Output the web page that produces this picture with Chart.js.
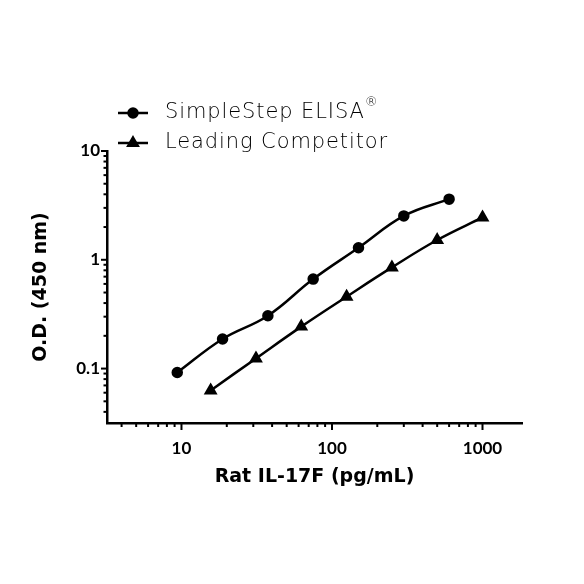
<!DOCTYPE html>
<html>
<head>
<meta charset="utf-8">
<script src="https://cdn.jsdelivr.net/npm/chart.js@4/dist/chart.umd.min.js"></script>
<style>
  html, body { margin: 0; padding: 0; background: #fff; }
  #wrap { width: 584px; height: 584px; }
</style>
</head>
<body>
<div id="wrap"><canvas id="odChart" width="584" height="584"></canvas></div>
<script>
// values
const seriesNames = ['SimpleStep ELISA', 'Leading Competitor'];
const simpleConc = [9.375, 18.75, 37.5, 75, 150, 300, 600];
const simpleOD = [0.092, 0.187, 0.306, 0.665, 1.29, 2.53, 3.61];
const competitorConc = [15.625, 31.25, 62.5, 125, 250, 500, 1000];
const competitorOD = [0.063, 0.124, 0.243, 0.458, 0.851, 1.52, 2.45];

const xMajorTicks = [10, 100, 1000];
const xMinorTicks = [4, 5, 6, 7, 8, 9, 20, 30, 40, 50, 60, 70, 80, 90, 200, 300, 400, 500, 600, 700, 800, 900];
const yMajorTicks = [0.1, 1, 10];
const yMinorTicks = [0.04, 0.05, 0.06, 0.07, 0.08, 0.09, 0.2, 0.3, 0.4, 0.5, 0.6, 0.7, 0.8, 0.9, 2, 3, 4, 5, 6, 7, 8, 9];

const labelFont = { family: 'Lato, "DejaVu Sans", sans-serif', size: 17, weight: 'bold' };
const titleFont = { family: '"DejaVu Sans", sans-serif', size: 19, weight: 'bold' };
const legendFont = '200 21px "DejaVu Sans", sans-serif';

function toPoints(xs, ys) {
  return xs.map((x, i) => ({ x: x, y: ys[i] }));
}

function setTicks(major, minor) {
  return scale => {
    const all = major.map(v => ({ value: v, major: true }))
      .concat(minor.map(v => ({ value: v, major: false })));
    all.sort((a, b) => a.value - b.value);
    scale.ticks = all;
  };
}

// tick marks: long for decades, short for the rest
const tickMarks = {
  id: 'tickMarks',
  afterDraw(chart) {
    const ctx = chart.ctx;
    const xs = chart.scales.x, ys = chart.scales.y;
    const area = chart.chartArea;
    ctx.save();
    ctx.strokeStyle = '#000';
    ctx.lineWidth = 2;
    xs.ticks.forEach(t => {
      const px = xs.getPixelForValue(t.value);
      ctx.beginPath();
      ctx.moveTo(px, area.bottom);
      ctx.lineTo(px, area.bottom + (t.major ? 7 : 4));
      ctx.stroke();
    });
    ys.ticks.forEach(t => {
      const py = ys.getPixelForValue(t.value);
      ctx.beginPath();
      ctx.moveTo(area.left, py);
      ctx.lineTo(area.left - (t.major ? 6 : 3.5), py);
      ctx.stroke();
    });
    ctx.restore();
  }
};

// legend with line + marker, as in the reference
const lineLegend = {
  id: 'lineLegend',
  afterDraw(chart) {
    const ctx = chart.ctx;
    const rows = [113, 143];
    ctx.save();
    chart.data.datasets.forEach((ds, i) => {
      const y = rows[i];
      ctx.strokeStyle = '#000';
      ctx.fillStyle = '#000';
      ctx.lineWidth = 2.5;
      ctx.beginPath();
      ctx.moveTo(118, y);
      ctx.lineTo(148, y);
      ctx.stroke();
      Chart.helpers.drawPoint(ctx, { pointStyle: ds.pointStyle, radius: ds.pointRadius, borderWidth: 1 }, 133, y);
      ctx.font = legendFont;
      ctx.letterSpacing = '0.9px';
      ctx.textBaseline = 'middle';
      ctx.textAlign = 'left';
      ctx.fillText(ds.label, 165, y);
      if (i === 0) {
        const w = ctx.measureText(ds.label).width;
        ctx.letterSpacing = '0px';
        ctx.font = '200 13px "DejaVu Sans", sans-serif';
        ctx.fillText('®', 165 + w, y - 10);
      }
      ctx.letterSpacing = '0px';
    });
    ctx.restore();
  }
};

new Chart(document.getElementById('odChart'), {
  type: 'line',
  data: {
    datasets: [{
      label: seriesNames[0],
      data: toPoints(simpleConc, simpleOD),
      borderColor: '#000',
      backgroundColor: '#000',
      borderWidth: 2.5,
      pointStyle: 'circle',
      pointRadius: 4.5,
      tension: 0.4
    }, {
      label: seriesNames[1],
      data: toPoints(competitorConc, competitorOD),
      borderColor: '#000',
      backgroundColor: '#000',
      borderWidth: 2.5,
      pointStyle: 'triangle',
      pointRadius: 5.5,
      tension: 0.4
    }]
  },
  options: {
    responsive: false,
    animation: false,
    layout: { padding: { top: 151, right: 62, bottom: 96, left: 30 } },
    plugins: {
      legend: { display: false },
      tooltip: { enabled: false }
    },
    scales: {
      x: {
        type: 'logarithmic',
        min: 3.2,
        max: 1830,
        afterBuildTicks: setTicks(xMajorTicks, xMinorTicks),
        afterFit: scale => { scale.height = 65; },
        border: { display: true, color: '#000', width: 2.5 },
        grid: { display: false, drawTicks: false },
        ticks: {
          autoSkip: false,
          maxRotation: 0,
          padding: 15,
          color: '#000',
          font: labelFont,
          callback: (v) => xMajorTicks.includes(v) ? String(v) : ''
        },
        title: {
          display: true,
          text: 'Rat IL-17F (pg/mL)',
          color: '#000',
          font: titleFont,
          padding: 0
        }
      },
      y: {
        type: 'logarithmic',
        min: 0.0316,
        max: 10,
        afterBuildTicks: setTicks(yMajorTicks, yMinorTicks),
        afterFit: scale => { scale.width = 77; },
        border: { display: true, color: '#000', width: 2.5 },
        grid: { display: false, drawTicks: false },
        ticks: {
          autoSkip: false,
          padding: 7,
          color: '#000',
          font: labelFont,
          callback: (v) => yMajorTicks.includes(v) ? String(v) : ''
        },
        title: {
          display: true,
          text: 'O.D. (450 nm)',
          color: '#000',
          font: titleFont,
          padding: 0
        }
      }
    }
  },
  plugins: [tickMarks, lineLegend]
});
</script>
</body>
</html>
